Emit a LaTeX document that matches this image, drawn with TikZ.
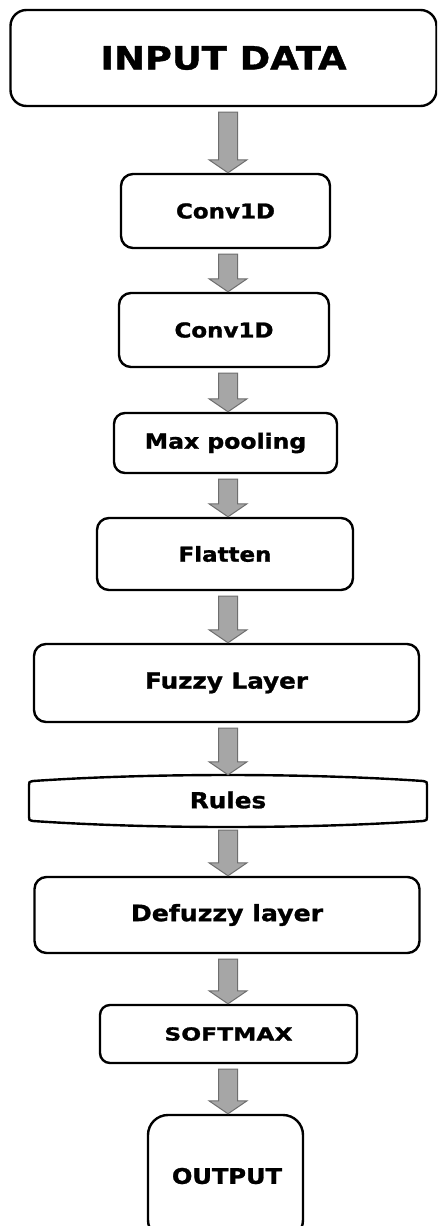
\documentclass[tikz,border=0pt]{standalone}
\usepackage{fontspec}
\usepackage{graphicx}
\setmainfont{DejaVu Sans}[BoldFeatures={FakeBold=1.2}]
\usetikzlibrary{calc}
\definecolor{arrfill}{HTML}{A6A6A6}
\definecolor{arrline}{HTML}{6E6E6E}
\newcommand\lbl[3][1.12]{{\fontsize{#2}{#2}\selectfont\bfseries\scalebox{#1}[1]{#3}}}
\newcommand\blockarrow[2]{%
  \path[flowarrow] let \p1=(#1.south), \p2=(#2.north) in
    (218.5pt,{\y1-5pt}) -- (237.5pt,{\y1-5pt}) -- (237.5pt,{\y2+13pt}) --
    (247pt,{\y2+13pt}) -- (228pt,\y2) -- (209pt,{\y2+13pt}) --
    (218.5pt,{\y2+13pt}) -- cycle;}
\begin{document}
\begin{tikzpicture}[x=1pt,y=-1pt,
  box/.style={draw=black,line width=2.4pt,rounded corners=#1,fill=white,inner sep=0pt},
  box/.default=12pt,
  flowarrow/.style={fill=arrfill,draw=arrline,line width=1pt,line join=miter},
  rulesline/.style={draw=black,line width=2.4pt}]
\useasboundingbox (0,0) rectangle (437,1226);
\clip (0,0) rectangle (437,1226);
\fill[white] (0,0) rectangle (437,1226);
\node[box=16pt,minimum width=426pt,minimum height=96pt] (input) at (223.5,58) {\lbl[1.15]{32}{INPUT DATA}};
\node[box,minimum width=209pt,minimum height=74pt] (conv1) at (225.5,211) {\lbl{20.5}{Conv1D}};
\node[box,minimum width=210pt,minimum height=74pt] (conv2) at (224,330) {\lbl{20.5}{Conv1D}};
\node[box=11pt,minimum width=223pt,minimum height=60pt] (pool) at (225.5,443) {\lbl{21}{Max pooling}};
\node[box,minimum width=256pt,minimum height=72pt] (flat) at (225,554) {\lbl{20.5}{Flatten}};
\node[box,minimum width=385pt,minimum height=78pt] (fuzzy) at (226.5,683) {\lbl{22}{Fuzzy Layer}};
\draw[rulesline] (29,785) -- (29,817) .. controls (29,820) .. (33,821)
  .. controls (150,829) and (306,829) .. (423,821) .. controls (427,820) .. (427,817)
  -- (427,785) .. controls (427,782) .. (423,781)
  .. controls (306,773) and (150,773) .. (33,781) .. controls (29,782) .. (29,785) -- cycle;
\node[inner sep=0pt,minimum width=398pt,minimum height=50pt] (rules) at (228,800) {\lbl{22}{Rules}};
\node[box,minimum width=385pt,minimum height=76pt] (defuzzy) at (227,915) {\lbl{22.5}{Defuzzy layer}};
\node[box=10pt,minimum width=257pt,minimum height=58pt] (softmax) at (228.5,1034) {\lbl[1.3]{18}{SOFTMAX}};
\node[box=20pt,minimum width=155pt,minimum height=125pt] (output) at (225.5,1177.5) {};
\node (outlabel) at (227,1176) {\lbl{21.5}{OUTPUT}};
\blockarrow{input}{conv1}
\blockarrow{conv1}{conv2}
\blockarrow{conv2}{pool}
\blockarrow{pool}{flat}
\blockarrow{flat}{fuzzy}
\blockarrow{fuzzy}{rules}
\blockarrow{rules}{defuzzy}
\blockarrow{defuzzy}{softmax}
\blockarrow{softmax}{output}
\end{tikzpicture}
\end{document}
